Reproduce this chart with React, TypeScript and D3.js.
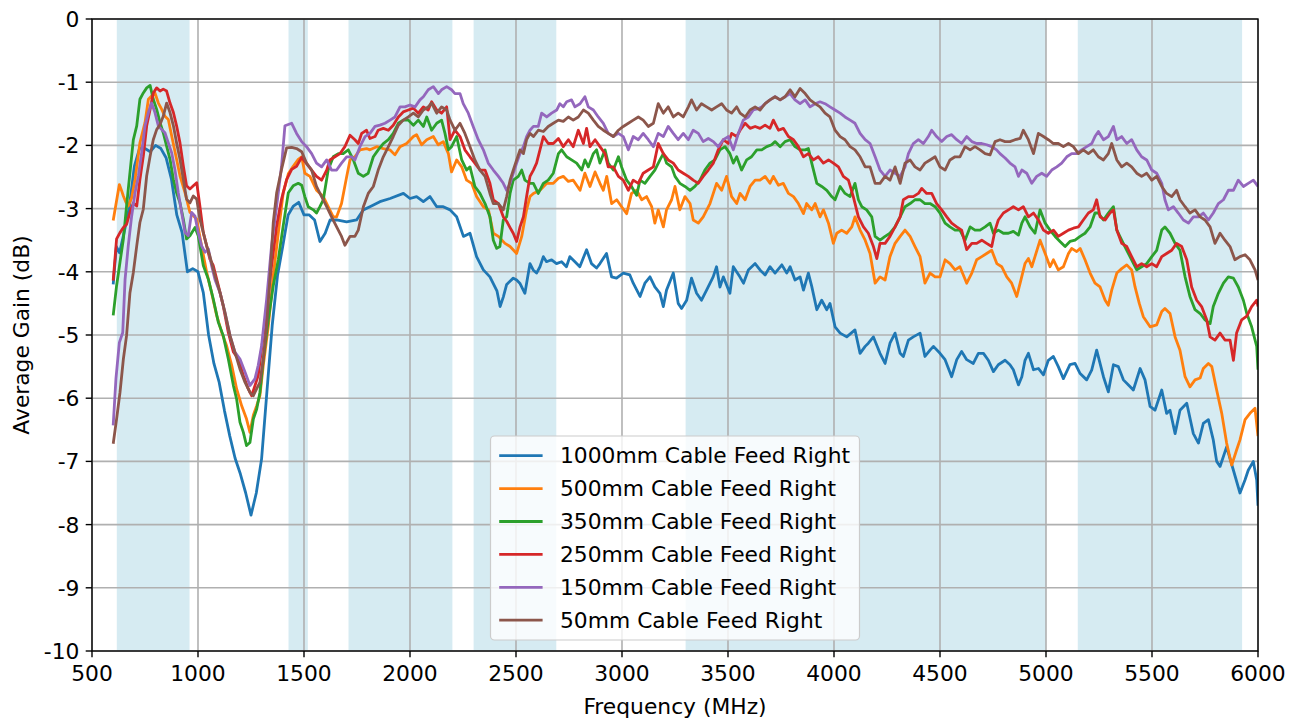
import React from "react";
import * as d3 from "d3";

// ---------- data ----------
const xTickValues = [500, 1000, 1500, 2000, 2500, 3000, 3500, 4000, 4500, 5000, 5500, 6000];
const yTickValues = [0, -1, -2, -3, -4, -5, -6, -7, -8, -9, -10];

// highlighted frequency bands (MHz)
const bands: [number, number][] = [
  [617, 960], [1427, 1518], [1710, 2200], [2300, 2690], [3300, 5000], [5150, 5925],
];

const seriesLabels = [
  "1000mm Cable Feed Right",
  "500mm Cable Feed Right",
  "350mm Cable Feed Right",
  "250mm Cable Feed Right",
  "150mm Cable Feed Right",
  "50mm Cable Feed Right",
];
const seriesColors = ["#1f77b4", "#ff7f0e", "#2ca02c", "#d62728", "#9467bd", "#8c564b"];

// [MHz, dB]
const gain1000mm: [number, number][] = [
  [600,-4.2],[615,-3.6],[630,-3.7],[650,-3.4],[675,-3.0],[700,-2.33],[725,-2.04],[750,-2.05],[775,-2.1],[800,-2.0],[825,-2.05],[850,-2.2],[875,-2.54],[900,-3.1],[925,-3.38],[950,-4.0],[975,-3.95],[1000,-4.0],[1025,-4.33],[1050,-5.0],[1075,-5.45],[1100,-5.75],[1125,-6.2],[1150,-6.6],[1175,-6.95],[1200,-7.2],[1225,-7.5],[1250,-7.85],[1275,-7.5],[1300,-6.96],[1325,-5.9],[1350,-4.85],[1375,-4.06],[1400,-3.59],[1425,-3.1],[1450,-2.96],[1475,-2.9],[1500,-3.1],[1525,-3.1],[1550,-3.18],[1575,-3.52],[1600,-3.39],[1623,-3.18],[1654,-3.18],[1701,-3.21],[1748,-3.18],[1780,-3.02],[1811,-2.97],[1858,-2.89],[1906,-2.84],[1969,-2.76],[2000,-2.84],[2031,-2.81],[2063,-2.89],[2094,-2.81],[2126,-2.97],[2157,-2.97],[2189,-3.02],[2220,-3.13],[2252,-3.44],[2283,-3.39],[2314,-3.76],[2346,-3.97],[2377,-4.08],[2410,-4.3],[2425,-4.55],[2440,-4.4],[2456,-4.2],[2487,-4.1],[2503,-4.13],[2518,-4.18],[2542,-4.34],[2566,-3.87],[2581,-3.97],[2597,-4.02],[2613,-3.92],[2629,-3.76],[2644,-3.84],[2668,-3.81],[2691,-3.87],[2715,-3.84],[2738,-3.92],[2754,-3.76],[2778,-3.84],[2801,-3.92],[2833,-3.65],[2856,-3.87],[2880,-3.94],[2896,-3.87],[2927,-3.71],[2951,-4.08],[2974,-4.1],[3006,-4.02],[3037,-4.05],[3053,-4.18],[3085,-4.39],[3108,-4.18],[3132,-4.08],[3155,-4.24],[3179,-4.34],[3195,-4.55],[3210,-4.29],[3242,-4.02],[3265,-4.5],[3281,-4.58],[3305,-4.45],[3328,-4.1],[3352,-4.34],[3375,-4.45],[3399,-4.29],[3430,-4.08],[3446,-3.92],[3462,-4.24],[3478,-4.08],[3509,-4.34],[3525,-3.92],[3556,-4.08],[3573,-4.18],[3596,-3.97],[3628,-3.87],[3651,-3.97],[3675,-4.05],[3698,-3.92],[3722,-4.02],[3754,-3.89],[3777,-4.02],[3793,-3.92],[3816,-4.13],[3840,-4.08],[3856,-4.29],[3879,-4.02],[3895,-4.23],[3919,-4.6],[3942,-4.45],[3966,-4.6],[3981,-4.5],[4005,-4.87],[4029,-4.97],[4060,-5.03],[4099,-4.92],[4123,-5.29],[4147,-5.18],[4162,-5.13],[4186,-5.03],[4217,-5.29],[4241,-5.45],[4264,-5.13],[4288,-4.97],[4312,-5.29],[4327,-5.34],[4351,-5.08],[4374,-5.03],[4406,-4.97],[4429,-5.34],[4453,-5.24],[4469,-5.18],[4500,-5.29],[4524,-5.39],[4555,-5.66],[4579,-5.39],[4602,-5.26],[4626,-5.39],[4657,-5.45],[4681,-5.29],[4705,-5.29],[4728,-5.4],[4752,-5.58],[4775,-5.47],[4807,-5.4],[4830,-5.47],[4846,-5.55],[4870,-5.79],[4886,-5.66],[4901,-5.4],[4917,-5.29],[4941,-5.55],[4964,-5.53],[4988,-5.63],[5011,-5.4],[5035,-5.34],[5058,-5.5],[5082,-5.69],[5113,-5.47],[5137,-5.45],[5161,-5.61],[5192,-5.71],[5216,-5.55],[5239,-5.24],[5271,-5.66],[5294,-5.9],[5318,-5.47],[5341,-5.5],[5365,-5.71],[5389,-5.79],[5412,-5.87],[5444,-5.53],[5467,-5.71],[5491,-6.13],[5514,-6.19],[5546,-5.87],[5569,-6.24],[5585,-6.19],[5609,-6.56],[5632,-6.19],[5664,-6.08],[5695,-6.56],[5719,-6.71],[5742,-6.4],[5766,-6.34],[5789,-6.66],[5805,-7.0],[5821,-7.08],[5852,-6.77],[5884,-7.14],[5915,-7.5],[5939,-7.29],[5954,-7.14],[5978,-7.0],[5994,-7.3],[6000,-7.7],
];

const gain500mm: [number, number][] = [
  [600,-3.19],[629,-2.62],[640,-2.72],[648,-2.8],[660,-2.9],[671,-2.96],[687,-2.83],[703,-2.54],[726,-1.96],[750,-1.64],[766,-1.27],[781,-1.22],[797,-1.17],[813,-1.33],[829,-1.43],[844,-1.54],[860,-1.59],[876,-1.85],[899,-2.22],[915,-2.48],[939,-2.75],[962,-3.06],[994,-3.17],[1017,-3.59],[1041,-4.01],[1064,-4.33],[1088,-4.69],[1112,-4.96],[1135,-5.17],[1159,-5.48],[1182,-5.85],[1206,-6.12],[1229,-6.33],[1245,-6.54],[1261,-6.27],[1277,-6.12],[1292,-5.96],[1308,-5.48],[1332,-4.85],[1355,-4.06],[1379,-3.38],[1402,-2.75],[1426,-2.45],[1449,-2.33],[1473,-2.22],[1489,-2.18],[1504,-2.44],[1528,-2.49],[1559,-2.71],[1591,-2.81],[1614,-2.97],[1638,-3.13],[1654,-3.13],[1677,-2.92],[1701,-2.5],[1717,-2.23],[1740,-2.18],[1764,-2.07],[1795,-2.05],[1811,-2.07],[1843,-2.02],[1874,-2.05],[1905,-2.07],[1929,-2.15],[1953,-2.02],[1984,-1.97],[2016,-1.86],[2031,-1.83],[2055,-1.99],[2079,-1.91],[2110,-1.86],[2133,-1.99],[2157,-1.94],[2181,-2.13],[2196,-2.42],[2220,-2.23],[2244,-2.34],[2267,-2.55],[2291,-2.6],[2314,-2.81],[2346,-2.97],[2370,-3.02],[2393,-3.39],[2417,-3.44],[2448,-3.55],[2472,-3.6],[2503,-3.71],[2527,-3.44],[2550,-3.02],[2566,-2.81],[2582,-2.76],[2613,-2.71],[2645,-2.6],[2676,-2.6],[2700,-2.52],[2723,-2.49],[2747,-2.57],[2770,-2.55],[2802,-2.71],[2825,-2.44],[2849,-2.65],[2873,-2.42],[2896,-2.6],[2912,-2.71],[2928,-2.49],[2951,-2.92],[2975,-2.86],[2998,-2.97],[3022,-3.08],[3045,-2.76],[3069,-2.71],[3093,-2.86],[3116,-2.81],[3140,-2.97],[3155,-3.23],[3171,-3.02],[3195,-3.29],[3210,-3.02],[3234,-2.86],[3250,-2.65],[3273,-3.02],[3297,-2.81],[3321,-2.92],[3336,-3.18],[3360,-3.23],[3383,-3.13],[3415,-2.92],[3446,-2.6],[3470,-2.71],[3493,-2.49],[3517,-2.81],[3541,-2.92],[3557,-2.76],[3581,-2.86],[3604,-2.65],[3628,-2.55],[3651,-2.55],[3675,-2.49],[3698,-2.6],[3714,-2.49],[3738,-2.63],[3761,-2.6],[3785,-2.76],[3809,-2.81],[3832,-2.92],[3856,-3.08],[3871,-2.92],[3895,-3.02],[3911,-2.92],[3934,-3.13],[3950,-3.02],[3974,-3.23],[3997,-3.55],[4013,-3.39],[4036,-3.34],[4060,-3.39],[4084,-3.29],[4099,-3.13],[4123,-3.34],[4147,-3.5],[4170,-3.71],[4194,-4.18],[4217,-4.08],[4241,-4.13],[4264,-3.76],[4288,-3.55],[4312,-3.44],[4335,-3.34],[4359,-3.44],[4382,-3.6],[4406,-3.76],[4429,-4.18],[4453,-4.02],[4477,-4.08],[4500,-4.08],[4524,-3.81],[4547,-3.87],[4571,-3.97],[4594,-3.92],[4626,-4.18],[4650,-4.02],[4673,-3.81],[4697,-3.76],[4720,-3.71],[4744,-3.66],[4768,-3.87],[4791,-3.92],[4815,-4.08],[4838,-4.18],[4862,-4.39],[4878,-4.18],[4901,-3.87],[4917,-3.79],[4933,-3.92],[4948,-3.76],[4972,-3.5],[4996,-3.71],[5019,-3.92],[5035,-3.81],[5058,-3.97],[5082,-3.92],[5106,-3.71],[5121,-3.63],[5145,-3.68],[5161,-3.63],[5184,-3.81],[5208,-4.02],[5231,-4.18],[5255,-4.24],[5279,-4.45],[5294,-4.53],[5310,-4.29],[5334,-4.02],[5357,-3.95],[5381,-3.89],[5404,-3.97],[5420,-4.24],[5440,-4.5],[5459,-4.71],[5491,-4.87],[5522,-4.84],[5546,-4.63],[5561,-4.58],[5585,-4.66],[5609,-5.03],[5632,-5.24],[5656,-5.66],[5679,-5.82],[5703,-5.71],[5727,-5.68],[5742,-5.53],[5766,-5.45],[5782,-5.5],[5805,-5.87],[5829,-6.24],[5852,-6.71],[5876,-7.06],[5899,-6.82],[5915,-6.66],[5939,-6.34],[5962,-6.24],[5986,-6.16],[6000,-6.6],
];

const gain350mm: [number, number][] = [
  [600,-4.69],[616,-4.22],[632,-3.85],[648,-3.48],[663,-2.96],[679,-2.43],[695,-1.91],[711,-1.69],[726,-1.27],[742,-1.17],[758,-1.09],[774,-1.05],[789,-1.27],[805,-1.43],[821,-1.64],[836,-1.8],[852,-2.01],[868,-2.22],[884,-2.54],[899,-2.75],[915,-2.91],[931,-3.17],[946,-3.48],[962,-3.43],[986,-3.3],[1001,-3.43],[1025,-3.9],[1049,-4.12],[1072,-4.43],[1096,-4.8],[1119,-5.01],[1143,-5.38],[1167,-5.8],[1182,-6.01],[1198,-6.38],[1214,-6.54],[1229,-6.75],[1245,-6.7],[1261,-6.33],[1277,-6.17],[1292,-5.91],[1308,-5.38],[1332,-4.75],[1355,-4.22],[1379,-3.8],[1402,-3.27],[1426,-2.75],[1449,-2.64],[1473,-2.6],[1489,-2.63],[1504,-2.81],[1520,-2.97],[1544,-3.02],[1559,-3.07],[1575,-2.97],[1591,-2.86],[1614,-2.39],[1638,-2.18],[1662,-2.13],[1685,-2.13],[1709,-2.07],[1733,-2.23],[1756,-2.44],[1780,-2.49],[1803,-2.44],[1827,-2.18],[1850,-2.07],[1874,-1.97],[1898,-1.91],[1921,-1.81],[1945,-1.65],[1968,-1.6],[1992,-1.6],[2016,-1.68],[2039,-1.6],[2063,-1.7],[2079,-1.55],[2102,-1.76],[2126,-1.65],[2149,-1.6],[2165,-1.81],[2181,-2.07],[2196,-2.02],[2220,-1.86],[2244,-2.23],[2267,-2.39],[2283,-2.34],[2306,-2.65],[2330,-2.76],[2354,-2.92],[2377,-3.13],[2393,-3.5],[2409,-3.63],[2424,-3.6],[2440,-3.18],[2456,-3.13],[2472,-2.76],[2487,-2.55],[2511,-2.49],[2527,-2.39],[2542,-2.55],[2566,-2.6],[2582,-2.6],[2605,-2.76],[2629,-2.6],[2652,-2.55],[2676,-2.44],[2700,-2.13],[2715,-2.07],[2739,-2.18],[2762,-2.23],[2786,-2.28],[2810,-2.39],[2825,-2.23],[2841,-2.34],[2865,-2.13],[2880,-2.07],[2896,-2.28],[2920,-2.07],[2935,-2.28],[2959,-2.39],[2983,-2.18],[2998,-2.34],[3022,-2.55],[3045,-2.65],[3069,-2.79],[3085,-2.55],[3108,-2.6],[3132,-2.49],[3155,-2.39],[3179,-2.23],[3195,-2.13],[3210,-2.28],[3234,-2.34],[3250,-2.49],[3273,-2.6],[3297,-2.65],[3321,-2.71],[3344,-2.65],[3368,-2.55],[3391,-2.39],[3415,-2.28],[3438,-2.23],[3462,-2.07],[3486,-2.02],[3509,-2.13],[3525,-2.28],[3541,-2.18],[3564,-2.39],[3588,-2.23],[3611,-2.18],[3636,-2.07],[3659,-2.07],[3683,-2.02],[3706,-1.99],[3722,-1.94],[3746,-2.02],[3769,-1.94],[3793,-1.91],[3816,-2.02],[3840,-2.07],[3864,-2.07],[3879,-2.05],[3895,-2.28],[3919,-2.6],[3942,-2.65],[3966,-2.71],[3989,-2.81],[4005,-2.86],[4029,-2.65],[4052,-2.76],[4076,-2.81],[4099,-2.6],[4115,-2.86],[4131,-2.97],[4154,-3.02],[4178,-3.13],[4194,-3.44],[4217,-3.5],[4241,-3.44],[4264,-3.39],[4288,-3.29],[4312,-3.13],[4335,-2.97],[4359,-2.92],[4382,-2.86],[4406,-2.86],[4429,-2.92],[4453,-2.92],[4477,-2.97],[4500,-3.07],[4524,-3.23],[4547,-3.29],[4571,-3.34],[4594,-3.34],[4618,-3.5],[4642,-3.29],[4665,-3.34],[4689,-3.34],[4713,-3.29],[4736,-3.23],[4752,-3.39],[4775,-3.34],[4799,-3.39],[4823,-3.39],[4846,-3.36],[4870,-3.42],[4886,-3.23],[4901,-3.13],[4925,-3.29],[4948,-3.39],[4972,-3.02],[4996,-3.23],[5019,-3.34],[5043,-3.44],[5066,-3.52],[5090,-3.6],[5113,-3.52],[5137,-3.5],[5161,-3.44],[5184,-3.39],[5208,-3.29],[5231,-3.07],[5247,-3.07],[5271,-3.18],[5294,-3.07],[5318,-2.97],[5334,-3.34],[5357,-3.5],[5381,-3.66],[5404,-3.81],[5428,-3.97],[5451,-3.92],[5475,-3.87],[5499,-3.76],[5522,-3.66],[5546,-3.34],[5561,-3.29],[5585,-3.39],[5609,-3.55],[5632,-3.66],[5656,-4.08],[5679,-4.39],[5703,-4.6],[5727,-4.66],[5750,-4.76],[5774,-4.82],[5789,-4.55],[5813,-4.34],[5837,-4.18],[5860,-4.08],[5884,-4.1],[5907,-4.24],[5931,-4.45],[5947,-4.66],[5970,-4.87],[5994,-5.18],[6000,-5.55],
];

const gain250mm: [number, number][] = [
  [600,-4.14],[616,-3.48],[632,-3.38],[648,-3.3],[663,-3.25],[679,-3.06],[695,-2.91],[711,-2.96],[726,-2.54],[742,-2.17],[758,-1.69],[774,-1.43],[789,-1.17],[805,-1.09],[821,-1.14],[836,-1.11],[852,-1.14],[868,-1.33],[884,-1.48],[899,-1.69],[915,-1.96],[931,-2.33],[946,-2.64],[962,-2.69],[978,-2.64],[994,-2.59],[1009,-2.96],[1025,-3.38],[1041,-3.59],[1056,-3.8],[1072,-3.9],[1096,-4.22],[1119,-4.54],[1143,-4.96],[1167,-5.27],[1190,-5.38],[1214,-5.64],[1237,-5.85],[1253,-5.96],[1269,-5.8],[1284,-5.64],[1300,-5.22],[1324,-4.59],[1347,-3.91],[1371,-3.27],[1394,-2.85],[1418,-2.54],[1442,-2.38],[1465,-2.33],[1489,-2.19],[1512,-2.29],[1536,-2.39],[1559,-2.49],[1583,-2.55],[1607,-2.39],[1622,-2.23],[1646,-2.18],[1670,-2.13],[1693,-2.02],[1717,-1.84],[1740,-1.91],[1756,-1.97],[1772,-1.81],[1795,-1.76],[1811,-1.89],[1835,-1.86],[1850,-1.76],[1874,-1.73],[1898,-1.76],[1921,-1.68],[1945,-1.55],[1968,-1.47],[1992,-1.44],[2016,-1.41],[2039,-1.49],[2063,-1.39],[2086,-1.44],[2102,-1.31],[2126,-1.44],[2149,-1.49],[2173,-1.39],[2189,-1.91],[2212,-1.76],[2236,-1.86],[2259,-2.07],[2283,-2.18],[2306,-2.28],[2330,-2.39],[2354,-2.39],[2377,-2.6],[2393,-2.86],[2417,-2.92],[2440,-3.13],[2456,-3.2],[2472,-3.3],[2487,-3.39],[2503,-3.52],[2519,-3.29],[2535,-3.13],[2550,-2.81],[2566,-2.49],[2582,-2.39],[2597,-2.28],[2613,-2.07],[2629,-1.86],[2652,-1.97],[2676,-1.97],[2700,-1.89],[2723,-2.02],[2747,-1.91],[2770,-2.02],[2794,-1.76],[2818,-1.97],[2833,-1.73],[2849,-2.02],[2873,-1.91],[2896,-2.02],[2920,-2.13],[2935,-2.34],[2959,-2.34],[2983,-2.49],[3006,-2.55],[3030,-2.71],[3053,-2.55],[3077,-2.6],[3100,-2.44],[3124,-2.39],[3148,-2.34],[3171,-1.97],[3195,-2.13],[3218,-2.23],[3242,-2.28],[3265,-2.39],[3289,-2.44],[3313,-2.49],[3336,-2.55],[3360,-2.6],[3383,-2.49],[3407,-2.39],[3431,-2.28],[3454,-2.07],[3478,-1.91],[3501,-1.97],[3517,-1.81],[3541,-1.86],[3557,-1.76],[3581,-1.65],[3604,-1.73],[3628,-1.7],[3651,-1.73],[3675,-1.68],[3698,-1.73],[3714,-1.6],[3738,-1.76],[3761,-1.73],[3785,-1.86],[3809,-1.91],[3832,-2.02],[3856,-2.18],[3879,-2.13],[3903,-2.23],[3926,-2.18],[3950,-2.28],[3974,-2.23],[3997,-2.28],[4021,-2.34],[4044,-2.49],[4068,-2.55],[4091,-2.81],[4115,-3.13],[4139,-3.29],[4162,-3.39],[4186,-3.6],[4202,-3.79],[4217,-3.55],[4241,-3.55],[4264,-3.44],[4288,-3.29],[4312,-3.13],[4327,-2.86],[4351,-2.81],[4374,-2.81],[4398,-2.76],[4414,-2.68],[4437,-2.76],[4461,-2.76],[4484,-2.92],[4508,-3.02],[4532,-3.13],[4555,-3.23],[4579,-3.29],[4602,-3.34],[4626,-3.65],[4650,-3.55],[4673,-3.55],[4697,-3.5],[4720,-3.55],[4744,-3.6],[4760,-3.34],[4775,-3.18],[4799,-3.07],[4823,-3.02],[4846,-2.97],[4870,-3.02],[4893,-2.97],[4917,-3.13],[4941,-3.07],[4964,-3.18],[4988,-3.34],[5011,-3.39],[5035,-3.34],[5058,-3.44],[5082,-3.39],[5106,-3.34],[5129,-3.31],[5153,-3.29],[5176,-3.18],[5200,-3.07],[5223,-3.02],[5239,-2.86],[5255,-3.13],[5279,-3.18],[5302,-3.07],[5318,-3.02],[5334,-3.34],[5357,-3.55],[5381,-3.6],[5404,-3.76],[5428,-3.92],[5451,-3.87],[5475,-3.92],[5499,-3.87],[5522,-3.92],[5546,-3.76],[5569,-3.71],[5593,-3.66],[5616,-3.55],[5640,-3.6],[5664,-3.81],[5687,-4.24],[5711,-4.45],[5734,-4.55],[5758,-4.76],[5774,-5.03],[5797,-5.08],[5821,-4.97],[5844,-5.08],[5868,-5.08],[5884,-5.4],[5899,-4.97],[5923,-4.76],[5947,-4.7],[5970,-4.55],[5994,-4.45],[6000,-4.55],
];

const gain150mm: [number, number][] = [
  [600,-6.43],[613,-5.69],[629,-5.12],[645,-4.96],[656,-4.12],[671,-3.59],[687,-3.12],[703,-2.75],[719,-2.48],[734,-2.12],[750,-1.69],[766,-1.48],[781,-1.33],[797,-1.48],[813,-1.69],[829,-1.75],[844,-1.8],[860,-1.96],[876,-2.12],[891,-2.38],[907,-2.75],[923,-3.06],[939,-3.38],[954,-3.43],[970,-3.06],[986,-3.12],[1001,-3.38],[1017,-3.59],[1033,-3.69],[1049,-3.64],[1064,-3.9],[1080,-4.12],[1104,-4.33],[1127,-4.64],[1151,-5.01],[1174,-5.27],[1198,-5.38],[1222,-5.59],[1245,-5.8],[1269,-5.69],[1284,-5.48],[1300,-5.17],[1324,-4.43],[1347,-3.59],[1371,-2.96],[1394,-2.33],[1410,-1.69],[1426,-1.67],[1442,-1.65],[1465,-1.81],[1489,-1.94],[1512,-2.02],[1536,-2.13],[1559,-2.28],[1583,-2.34],[1607,-2.23],[1630,-2.39],[1654,-2.39],[1677,-2.28],[1701,-2.18],[1725,-2.18],[1740,-2.23],[1764,-2.02],[1788,-1.86],[1811,-1.81],[1835,-1.7],[1858,-1.68],[1882,-1.65],[1906,-1.6],[1929,-1.55],[1953,-1.39],[1976,-1.39],[2000,-1.36],[2024,-1.39],[2047,-1.28],[2063,-1.23],[2086,-1.12],[2110,-1.07],[2134,-1.18],[2149,-1.12],[2173,-1.07],[2196,-1.12],[2212,-1.18],[2236,-1.18],[2251,-1.34],[2275,-1.49],[2298,-1.7],[2322,-1.91],[2346,-2.07],[2369,-2.28],[2393,-2.39],[2417,-2.49],[2440,-2.6],[2456,-2.71],[2472,-2.6],[2487,-2.44],[2503,-2.28],[2519,-2.13],[2535,-2.02],[2550,-1.86],[2566,-1.76],[2582,-1.7],[2605,-1.7],[2621,-1.49],[2645,-1.55],[2668,-1.49],[2692,-1.44],[2707,-1.34],[2723,-1.39],[2739,-1.31],[2762,-1.28],[2778,-1.39],[2802,-1.34],[2825,-1.23],[2841,-1.39],[2865,-1.44],[2888,-1.55],[2912,-1.65],[2935,-1.81],[2959,-1.86],[2983,-1.81],[3006,-1.86],[3030,-2.07],[3053,-1.86],[3077,-1.91],[3100,-1.81],[3124,-1.91],[3148,-2.02],[3171,-1.81],[3195,-1.86],[3218,-1.7],[3242,-1.81],[3265,-1.91],[3289,-1.81],[3313,-1.91],[3336,-1.76],[3360,-1.81],[3383,-1.94],[3407,-1.89],[3431,-1.94],[3454,-2.02],[3478,-1.91],[3501,-1.86],[3525,-2.07],[3549,-1.81],[3572,-1.6],[3596,-1.55],[3619,-1.44],[3643,-1.42],[3660,-1.39],[3675,-1.34],[3698,-1.28],[3722,-1.23],[3746,-1.28],[3769,-1.23],[3793,-1.18],[3816,-1.28],[3840,-1.34],[3864,-1.28],[3887,-1.39],[3911,-1.34],[3934,-1.31],[3958,-1.34],[3981,-1.39],[4005,-1.44],[4029,-1.49],[4052,-1.55],[4076,-1.6],[4099,-1.65],[4123,-1.81],[4147,-1.91],[4170,-1.97],[4194,-2.18],[4217,-2.39],[4241,-2.49],[4264,-2.39],[4288,-2.44],[4312,-2.49],[4335,-2.34],[4351,-2.13],[4374,-1.97],[4398,-1.91],[4422,-1.97],[4445,-1.86],[4461,-1.76],[4484,-1.86],[4508,-1.94],[4532,-1.86],[4555,-1.83],[4579,-1.91],[4602,-1.97],[4626,-1.86],[4650,-1.94],[4673,-1.97],[4697,-1.97],[4720,-1.99],[4744,-2.02],[4767,-2.07],[4783,-2.13],[4807,-2.2],[4830,-2.28],[4854,-2.34],[4870,-2.49],[4886,-2.39],[4909,-2.44],[4933,-2.6],[4956,-2.49],[4980,-2.44],[5003,-2.49],[5027,-2.39],[5051,-2.34],[5074,-2.28],[5098,-2.18],[5121,-2.13],[5145,-2.13],[5168,-2.07],[5192,-2.02],[5216,-1.97],[5231,-1.86],[5247,-1.78],[5271,-1.91],[5294,-1.86],[5318,-1.7],[5334,-1.91],[5357,-1.86],[5381,-1.97],[5404,-1.91],[5428,-2.07],[5451,-2.18],[5475,-2.23],[5499,-2.39],[5522,-2.44],[5546,-2.6],[5561,-2.86],[5577,-3.02],[5601,-2.97],[5624,-3.07],[5648,-3.18],[5672,-3.23],[5695,-3.13],[5719,-3.13],[5742,-3.07],[5766,-3.18],[5789,-3.07],[5813,-2.92],[5837,-2.86],[5860,-2.71],[5884,-2.71],[5907,-2.55],[5931,-2.65],[5954,-2.6],[5978,-2.55],[6000,-2.65],
];

const gain50mm: [number, number][] = [
  [600,-6.72],[616,-6.33],[632,-5.91],[648,-5.38],[663,-5.01],[679,-4.33],[695,-4.01],[711,-3.59],[726,-3.22],[742,-3.01],[758,-2.48],[774,-2.17],[789,-1.91],[805,-1.75],[821,-1.67],[836,-1.54],[852,-1.33],[868,-1.48],[884,-1.69],[899,-1.96],[915,-2.22],[931,-2.54],[946,-2.85],[962,-2.91],[978,-2.8],[994,-2.85],[1009,-3.17],[1025,-3.38],[1041,-3.59],[1056,-3.75],[1080,-4.06],[1104,-4.33],[1127,-4.64],[1151,-5.01],[1174,-5.27],[1198,-5.54],[1222,-5.75],[1245,-5.91],[1261,-5.96],[1277,-5.85],[1292,-5.75],[1308,-5.38],[1324,-4.85],[1340,-4.06],[1355,-3.22],[1371,-2.75],[1394,-2.38],[1418,-2.04],[1442,-2.03],[1465,-2.05],[1489,-2.1],[1512,-2.28],[1536,-2.39],[1559,-2.65],[1583,-2.81],[1607,-2.97],[1630,-3.13],[1654,-3.29],[1677,-3.44],[1693,-3.58],[1717,-3.44],[1740,-3.44],[1756,-3.34],[1780,-2.97],[1803,-2.76],[1827,-2.65],[1850,-2.39],[1874,-2.18],[1898,-2.02],[1921,-1.86],[1945,-1.68],[1968,-1.6],[1992,-1.55],[2016,-1.49],[2039,-1.55],[2063,-1.44],[2086,-1.39],[2102,-1.33],[2126,-1.49],[2149,-1.39],[2173,-1.44],[2189,-1.6],[2212,-1.76],[2236,-1.65],[2259,-1.81],[2283,-2.02],[2306,-2.23],[2330,-2.39],[2354,-2.49],[2377,-2.76],[2393,-2.92],[2417,-2.92],[2440,-3.02],[2456,-2.81],[2472,-2.55],[2487,-2.39],[2503,-2.23],[2519,-2.07],[2535,-2.13],[2550,-1.91],[2566,-1.81],[2582,-1.86],[2605,-1.76],[2629,-1.78],[2652,-1.7],[2676,-1.65],[2700,-1.6],[2723,-1.62],[2747,-1.55],[2770,-1.6],[2794,-1.55],[2818,-1.44],[2841,-1.49],[2865,-1.6],[2888,-1.7],[2912,-1.76],[2935,-1.81],[2959,-1.86],[2983,-1.76],[3006,-1.7],[3030,-1.65],[3053,-1.6],[3077,-1.55],[3100,-1.6],[3124,-1.7],[3148,-1.65],[3171,-1.34],[3195,-1.49],[3218,-1.39],[3242,-1.55],[3265,-1.49],[3289,-1.55],[3313,-1.39],[3328,-1.28],[3352,-1.44],[3375,-1.34],[3399,-1.39],[3423,-1.44],[3446,-1.39],[3470,-1.34],[3493,-1.44],[3517,-1.49],[3541,-1.39],[3557,-1.49],[3581,-1.55],[3604,-1.44],[3628,-1.39],[3651,-1.44],[3675,-1.34],[3698,-1.28],[3722,-1.23],[3746,-1.28],[3769,-1.23],[3793,-1.12],[3816,-1.23],[3840,-1.1],[3864,-1.18],[3887,-1.28],[3911,-1.34],[3934,-1.39],[3958,-1.49],[3981,-1.55],[4005,-1.76],[4029,-1.86],[4052,-1.91],[4076,-2.02],[4099,-2.07],[4123,-2.18],[4147,-2.34],[4170,-2.34],[4194,-2.6],[4217,-2.6],[4241,-2.49],[4264,-2.55],[4288,-2.34],[4312,-2.6],[4335,-2.28],[4359,-2.23],[4382,-2.34],[4406,-2.39],[4429,-2.28],[4453,-2.23],[4477,-2.18],[4500,-2.34],[4524,-2.39],[4547,-2.23],[4571,-2.18],[4594,-2.18],[4618,-2.02],[4642,-2.07],[4665,-2.02],[4689,-2.07],[4713,-2.13],[4736,-2.15],[4760,-1.94],[4783,-1.91],[4807,-1.94],[4830,-1.94],[4854,-1.91],[4878,-1.89],[4893,-1.76],[4917,-1.91],[4941,-2.13],[4964,-1.81],[4988,-1.86],[5011,-1.91],[5035,-1.97],[5058,-1.97],[5082,-2.02],[5106,-1.97],[5129,-2.02],[5153,-2.13],[5176,-2.07],[5200,-2.13],[5223,-2.07],[5247,-2.18],[5271,-2.23],[5294,-2.13],[5310,-1.97],[5334,-2.23],[5357,-2.34],[5381,-2.28],[5404,-2.34],[5428,-2.44],[5451,-2.49],[5475,-2.44],[5499,-2.55],[5522,-2.49],[5546,-2.65],[5569,-2.76],[5593,-2.81],[5616,-2.71],[5632,-2.86],[5656,-2.97],[5679,-3.07],[5703,-3.02],[5727,-3.13],[5750,-3.18],[5774,-3.29],[5797,-3.55],[5821,-3.39],[5844,-3.5],[5868,-3.6],[5891,-3.81],[5915,-3.76],[5939,-3.73],[5962,-3.81],[5986,-3.97],[6000,-4.13],
];

const seriesData = [gain1000mm, gain500mm, gain350mm, gain250mm, gain150mm, gain50mm];

// ---------- layout ----------
const W = 1301;
const H = 722;
const PLOT = { left: 92, top: 19, right: 1258, bottom: 651 };
const FONT = "'DejaVu Sans', Verdana, sans-serif";
const FS = 21.8;

export default function App() {
  const x = d3.scaleLinear().domain([500, 6000]).range([PLOT.left, PLOT.right]);
  const y = d3.scaleLinear().domain([-10, 0]).range([PLOT.bottom, PLOT.top]);
  const line = d3
    .line<[number, number]>()
    .x((d) => x(d[0]))
    .y((d) => y(d[1]));

  const series = seriesLabels.map((label, i) => ({
    label,
    color: seriesColors[i],
    data: seriesData[i],
  }));

  // legend geometry
  const legW = 369;
  const rowH = 32.9;
  const legH = 204;
  const legX = (PLOT.left + PLOT.right) / 2 - legW / 2;
  const legY = PLOT.bottom - 11 - legH;

  return (
    <div style={{ position: "absolute", left: 0, top: 0, width: W, height: H, background: "#fff" }}>
      <svg width={W} height={H} viewBox={`0 0 ${W} ${H}`} style={{ display: "block" }}>
        <defs>
          <clipPath id="plotClip">
            <rect x={PLOT.left} y={PLOT.top} width={PLOT.right - PLOT.left} height={PLOT.bottom - PLOT.top} />
          </clipPath>
        </defs>
        <rect x={0} y={0} width={W} height={H} fill="#ffffff" />

        {/* bands */}
        <g>
          {bands.map(([a, b], i) => (
            <rect
              key={i}
              x={x(a)}
              y={PLOT.top}
              width={x(b) - x(a)}
              height={PLOT.bottom - PLOT.top}
              fill="#add8e6"
              fillOpacity={0.5}
            />
          ))}
        </g>

        {/* grid */}
        <g stroke="#b0b0b0" strokeWidth={1.6}>
          {xTickValues.map((t) => (
            <line key={"gx" + t} x1={x(t)} x2={x(t)} y1={PLOT.top} y2={PLOT.bottom} />
          ))}
          {yTickValues.map((t) => (
            <line key={"gy" + t} x1={PLOT.left} x2={PLOT.right} y1={y(t)} y2={y(t)} />
          ))}
        </g>

        {/* lines */}
        <g clipPath="url(#plotClip)" fill="none" strokeWidth={2.8} strokeLinejoin="round" strokeLinecap="butt">
          {series.map((s) => (
            <path key={s.label} d={line(s.data) || ""} stroke={s.color} />
          ))}
        </g>

        {/* spines */}
        <rect
          x={PLOT.left}
          y={PLOT.top}
          width={PLOT.right - PLOT.left}
          height={PLOT.bottom - PLOT.top}
          fill="none"
          stroke="#000"
          strokeWidth={1.4}
        />

        {/* ticks and labels */}
        <g fontFamily={FONT} fontSize={FS} fill="#000">
          {xTickValues.map((t) => (
            <g key={"xt" + t}>
              <line x1={x(t)} x2={x(t)} y1={PLOT.bottom} y2={PLOT.bottom + 6.3} stroke="#000" strokeWidth={1.4} />
              <text x={x(t)} y={PLOT.bottom + 30} textAnchor="middle">
                {t}
              </text>
            </g>
          ))}
          {yTickValues.map((t) => (
            <g key={"yt" + t}>
              <line x1={PLOT.left - 6.3} x2={PLOT.left} y1={y(t)} y2={y(t)} stroke="#000" strokeWidth={1.4} />
              <text x={PLOT.left - 12.6} y={y(t) + 7.9} textAnchor="end">
                {t === 0 ? "0" : "-" + Math.abs(t)}
              </text>
            </g>
          ))}
          <text x={(PLOT.left + PLOT.right) / 2} y={714} textAnchor="middle">
            Frequency (MHz)
          </text>
          <text
            transform={`translate(29, ${(PLOT.top + PLOT.bottom) / 2}) rotate(-90)`}
            textAnchor="middle"
          >
            Average Gain (dB)
          </text>
        </g>

        {/* legend */}
        <g fontFamily={FONT} fontSize={FS}>
          <rect
            x={legX}
            y={legY}
            width={legW}
            height={legH}
            rx={4}
            ry={4}
            fill="#ffffff"
            fillOpacity={0.8}
            stroke="#cccccc"
            strokeWidth={1.2}
          />
          {series.map((s, i) => {
            const cy = legY + 8.7 + 11 + i * rowH;
            const hx = legX + 8.7;
            return (
              <g key={"lg" + i}>
                <line x1={hx} x2={hx + 43.4} y1={cy} y2={cy} stroke={s.color} strokeWidth={2.8} />
                <text x={hx + 43.4 + 17.4} y={cy + 7.6} fill="#000">
                  {s.label}
                </text>
              </g>
            );
          })}
        </g>
      </svg>
    </div>
  );
}
